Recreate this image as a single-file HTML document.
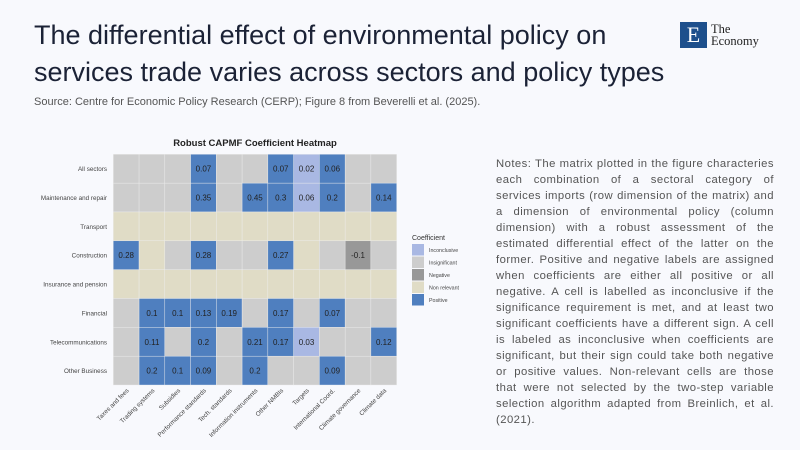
<!DOCTYPE html>
<html><head><meta charset="utf-8"><style>
body{margin:0;width:800px;height:450px;background:#f8f9fd;position:relative;overflow:hidden;font-family:"Liberation Sans",sans-serif}
.t{position:absolute;left:34px;top:17px;font-size:27px;line-height:37px;color:#1b2236;width:640px}
.s{position:absolute;left:34px;top:96px;font-size:11px;color:#555}
.n{position:absolute;left:496px;top:156px;width:278px;font-size:11.3px;letter-spacing:0.45px;line-height:16px;color:#555;text-align:justify}
.logo{position:absolute;left:680px;top:22px;width:27px;height:26px;background:#1d4f8c;color:#fff;font-family:"Liberation Serif",serif;font-size:22px;text-align:center;line-height:26px}
.lt{position:absolute;left:711px;top:23px;font-family:"Liberation Serif",serif;font-size:12.5px;line-height:12px;color:#222}
</style></head><body>
<div class="t">The differential effect of environmental policy on services trade varies across sectors and policy types</div>
<div class="s">Source: Centre for Economic Policy Research (CERP); Figure 8 from Beverelli et al. (2025).</div>
<div class="logo">E</div><div class="lt">The<br>Economy</div>
<div class="n">Notes: The matrix plotted in the figure characteries each combination of a sectoral category of services imports (row dimension of the matrix) and a dimension of environmental policy (column dimension) with a robust assessment of the estimated differential effect of the latter on the former. Positive and negative labels are assigned when coefficients are either all positive or all negative. A cell is labelled as inconclusive if the significance requirement is met, and at least two significant coefficients have a different sign. A cell is labeled as inconclusive when coefficients are significant, but their sign could take both negative or positive values. Non-relevant cells are those that were not selected by the two-step variable selection algorithm adapted from Breinlich, et al. (2021).</div>
<svg width="800" height="450" style="position:absolute;left:0;top:0" font-family="Liberation Sans, sans-serif">
<text x="255" y="146" font-size="9.5" font-weight="bold" text-anchor="middle" fill="#222">Robust CAPMF Coefficient Heatmap</text>
<g id="g"></g>
</svg>
<script>
var C={P:"#4f7fbf",I:"#cdcdcd",N:"#e0dcc6",C:"#a9b8e3",G:"#989898"};
var rows=[["All sectors","I I I P.07 I I P.07 C.02 P.06 I I"],["Maintenance and repair","I I I P.35 I P.45 P.3 C.06 P.2 I P.14"],["Transport","N N N N N N N N N N N"],["Construction","P.28 N I P.28 I I P.27 N I G-0.1 I"],["Insurance and pension","N N N N N N N N N N N"],["Financial","I P.1 P.1 P.13 P.19 I P.17 I P.07 I I"],["Telecommunications","I P.11 I P.2 I P.21 P.17 C.03 I I P.12"],["Other Business","I P.2 P.1 P.09 I P.2 I I P.09 I I"]];
var cols=["Taxes and fees","Trading systems","Subsidies","Performance standards","Tech. standards","Information instruments","Other NMBIs","Targets","International Coord.","Climate governance","Climate data"];
var x0=113.3,y0=154.3,w=25.76,h=28.84,s="";
rows.forEach(function(r,i){var y=y0+i*h;
s+='<text x="107" y="'+(y+h/2+2.5)+'" font-size="6.3" text-anchor="end" fill="#444">'+r[0]+'</text>';
r[1].split(" ").forEach(function(c,j){var x=x0+j*w;s+='<rect x="'+x+'" y="'+y+'" width="'+w+'" height="'+h+'" fill="'+C[c[0]]+'" stroke="#eee" stroke-width="0.4"/>';
var v=c.slice(1);if(v){v=v.replace(/^(-?)\./,"$10.");s+='<text x="'+(x+w/2)+'" y="'+(y+h/2+3)+'" font-size="8" text-anchor="middle" fill="#222">'+v+'</text>';}});});
cols.forEach(function(c,j){var x=x0+j*w+w/2+3;s+='<text transform="translate('+x+',391) rotate(-45)" font-size="6.3" text-anchor="end" fill="#444">'+c+'</text>';});
s+='<text x="412" y="240" font-size="7" fill="#333">Coefficient</text>';
[["C","Inconclusive"],["I","Insignificant"],["G","Negative"],["N","Non relevant"],["P","Positive"]].forEach(function(l,k){var y=244+k*12.5;s+='<rect x="412" y="'+y+'" width="12" height="11.5" fill="'+C[l[0]]+'"/><text x="429" y="'+(y+8)+'" font-size="5.3" fill="#444">'+l[1]+'</text>';});
document.getElementById("g").innerHTML=s;
</script>
</body></html>
